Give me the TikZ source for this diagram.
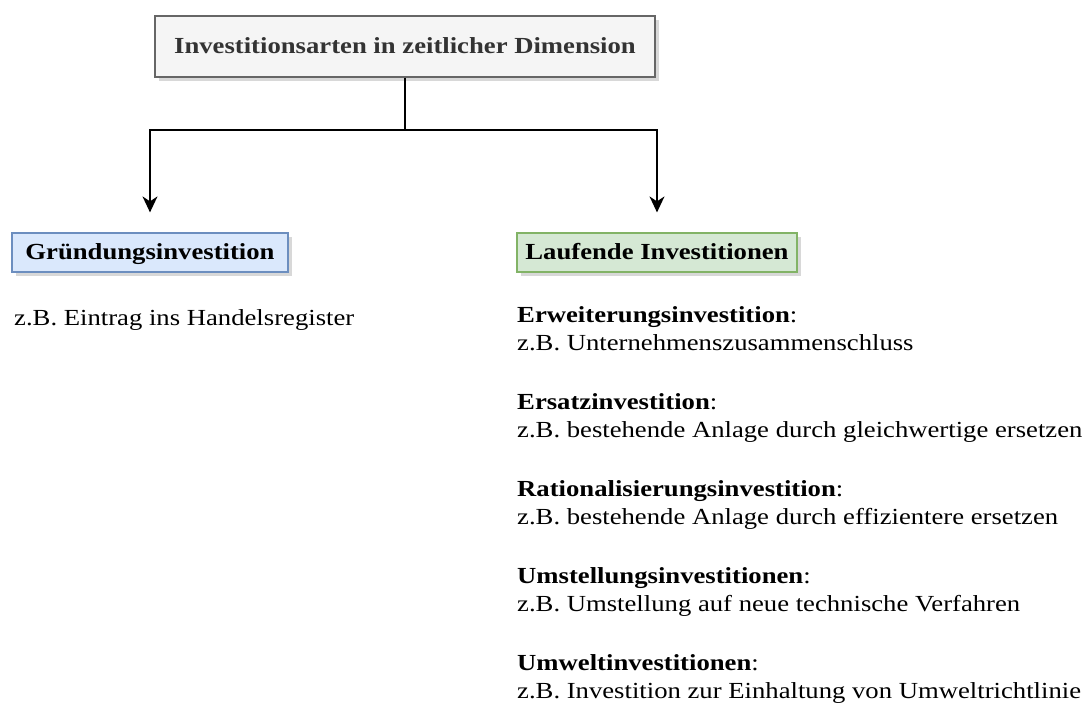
\documentclass[tikz,border=0pt]{standalone}
\usepackage{fontspec}
\setmainfont{Liberation Serif}[FakeStretch=1.16]
\usetikzlibrary{arrows.meta,shadows}
\definecolor{titlefill}{HTML}{F5F5F5}
\definecolor{titleline}{HTML}{666666}
\definecolor{titletext}{HTML}{333333}
\definecolor{bluefill}{HTML}{DAE8FC}
\definecolor{blueline}{HTML}{6C8EBF}
\definecolor{greenfill}{HTML}{D5E8D4}
\definecolor{greenline}{HTML}{82B366}
\tikzset{
  boxshadow/.style={drop shadow={shadow xshift=4pt,shadow yshift=-4pt,fill=black!30}},
  titlebox/.style={draw=titleline,fill=titlefill,line width=1.2pt,boxshadow,
    minimum width=500pt,minimum height=61pt,inner sep=0pt,
    text height=14pt,text depth=0pt,
    font=\fontsize{23}{25}\selectfont\bfseries,text=titletext},
  catbox/.style={draw=#1line,fill=#1fill,line width=1.2pt,boxshadow,
    minimum height=39pt,inner sep=0pt,text height=13pt,text depth=0pt,
    font=\fontsize{23}{25}\selectfont\bfseries},
  conn/.style={line width=1.6pt,draw=black},
  arr/.style={conn,-{Stealth[length=16pt,width=15pt,inset=5pt]},shorten >=20pt},
  txt/.style={anchor=base west,inner sep=0pt,font=\fontsize{23}{25}\selectfont}
}
\begin{document}
\begin{tikzpicture}[x=1pt,y=-1pt]
\useasboundingbox (0,0) rectangle (1085,707);

% heading and the two categories
\node[titlebox] (title) at (405,46.5) {Investitionsarten in zeitlicher Dimension};
\node[catbox=blue,minimum width=276pt] (found) at (150,252.5) {Gründungsinvestition};
\node[catbox=green,minimum width=280pt] (run) at (657,252.5) {Laufende Investitionen};

% branching connector
\coordinate (split) at (405,130);
\draw[conn] (title.south) -- (split);
\draw[arr] (split) -| (found.north);
\draw[arr] (split) -| (run.north);

% founding investment example
\node[txt] (f1) at (14,325) {z.B. Eintrag ins Handelsregister};

% ongoing investments and examples
\node[txt] (r1a) at (517,322) {\textbf{Erweiterungsinvestition}:};
\node[txt] (r1b) at (517,350) {z.B. Unternehmenszusammenschluss};
\node[txt] (r2a) at (517,409) {\textbf{Ersatzinvestition}:};
\node[txt] (r2b) at (517,437) {z.B. bestehende Anlage durch gleichwertige ersetzen};
\node[txt] (r3a) at (517,496) {\textbf{Rationalisierungsinvestition}:};
\node[txt] (r3b) at (517,524) {z.B. bestehende Anlage durch effizientere ersetzen};
\node[txt] (r4a) at (517,583) {\textbf{Umstellungsinvestitionen}:};
\node[txt] (r4b) at (517,611) {z.B. Umstellung auf neue technische Verfahren};
\node[txt] (r5a) at (517,670) {\textbf{Umweltinvestitionen}:};
\node[txt] (r5b) at (517,698) {z.B. Investition zur Einhaltung von Umweltrichtlinie};
\end{tikzpicture}
\end{document}
